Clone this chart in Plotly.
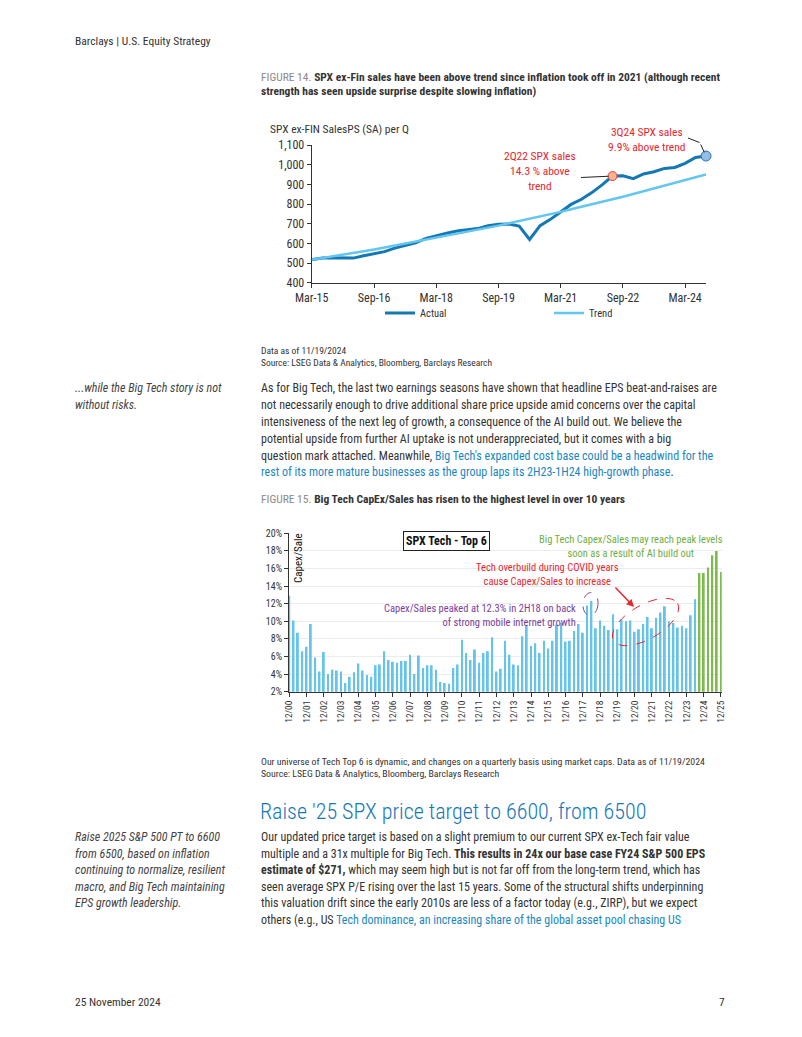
import plotly.graph_objects as go
import math

W, H = 802, 1037
def X(px): return px / W
def Y(py): return 1 - py / H

FONT = "Roboto Condensed, Roboto, sans-serif"
TXT = "#333333"
LINK = "#1a86c0"
RED = "#e8262e"
PURPLE = "#7a3ea0"
GREEN = "#6fae45"

# ---------------- Figure 14 data ----------------
sales_quarters = [f"{y}-{m:02d}-01" for y in range(2015, 2025) for m in (3, 6, 9, 12)][:39]
sales_actual = [517, 525, 527, 525, 525, 537, 546, 558, 576, 590,
                603, 625, 639, 651, 663, 668, 675, 690, 697, 698,
                688, 620, 690, 722, 761, 798, 824, 858, 897, 942,
                944, 929, 953, 964, 981, 986, 1007, 1037, 1044]
sales_trend = [517, 525, 534, 543, 551, 560, 569, 579, 588, 597,
               607, 617, 627, 637, 647, 658, 669, 679, 690, 702,
               713, 724, 736, 748, 760, 773, 785, 798, 811, 824,
               837, 851, 864, 878, 893, 907, 922, 937, 950]
sales_ticks = sales_quarters[0::6]
sales_yticks = [400, 500, 600, 700, 800, 900, 1000, 1100]

# ---------------- Figure 15 data ----------------
all_q = [f"{y}-{m:02d}-01" for y in range(2000, 2026) for m in (3, 6, 9, 12)]
capex_quarters = all_q[3:]  # 12/00 .. 12/25, 101 quarters
capex_actual = [12.9, 10.1, 8.7, 6.6, 7.1, 9.7, 5.9, 4.3, 6.5, 4.0,
                4.5, 4.4, 4.3, 3.0, 3.7, 4.2, 5.2, 4.4, 3.9, 3.7,
                5.0, 5.1, 6.6, 5.6, 5.4, 5.3, 5.5, 5.5, 6.2, 4.0,
                6.1, 4.7, 5.0, 5.0, 4.5, 3.1, 3.0, 2.9, 4.7, 5.1,
                7.9, 6.4, 5.6, 6.8, 5.3, 6.4, 6.6, 8.2, 4.3, 4.6,
                7.8, 6.2, 5.1, 5.0, 8.3, 9.5, 7.2, 7.5, 6.4, 7.8,
                6.9, 7.8, 9.6, 9.8, 7.7, 7.8, 8.9, 9.7, 8.7, 11.8,
                12.3, 9.2, 10.1, 9.5, 9.0, 10.8, 9.1, 10.2, 10.0, 10.1,
                8.8, 9.1, 9.7, 10.5, 9.2, 10.4, 11.0, 11.7, 10.0, 9.8,
                9.3, 9.5, 9.2, 10.7, 12.5]
capex_projected = [15.5, 15.5, 16.1, 17.5, 18.0, 15.6]
capex_ticks = capex_quarters[0::4]
capex_yticks = [2, 4, 6, 8, 10, 12, 14, 16, 18, 20]
capex_yticktext = [f"{v}%" for v in capex_yticks]

n_act = len(capex_actual)

fig = go.Figure()

# Figure 14 traces
fig.add_trace(go.Scatter(x=sales_quarters, y=sales_actual, mode="lines", name="Actual",
                         line=dict(color="#1478b4", width=3), xaxis="x", yaxis="y"))
fig.add_trace(go.Scatter(x=sales_quarters, y=sales_trend, mode="lines", name="Trend",
                         line=dict(color="#62c6f0", width=2.5), xaxis="x", yaxis="y"))
fig.add_trace(go.Scatter(x=[sales_quarters[29]], y=[sales_actual[29]], mode="markers", showlegend=False,
                         marker=dict(size=9, color="#f7b090", line=dict(color="#e04040", width=1)),
                         cliponaxis=False, xaxis="x", yaxis="y"))
fig.add_trace(go.Scatter(x=[sales_quarters[-1]], y=[sales_actual[-1]], mode="markers", showlegend=False,
                         marker=dict(size=10, color="#93bde6", line=dict(color="#2f6fa8", width=1)),
                         cliponaxis=False, xaxis="x", yaxis="y"))

# Figure 15 traces
BW = 40 * 86400000
fig.add_trace(go.Bar(x=capex_quarters[:n_act], y=capex_actual, width=BW, showlegend=False,
                     marker=dict(color="#66c3ea", line=dict(width=0)),
                     xaxis="x2", yaxis="y2"))
fig.add_trace(go.Bar(x=capex_quarters[n_act:], y=capex_projected, width=BW, showlegend=False,
                     marker=dict(color="#7cbb4e", line=dict(width=0)),
                     xaxis="x2", yaxis="y2"))

axis_font = dict(family=FONT, size=12, color=TXT)
small_font = dict(family=FONT, size=10, color=TXT)

fig.update_layout(
    template="none",
    width=W, height=H, margin=dict(l=0, r=0, t=0, b=0, autoexpand=False),
    paper_bgcolor="white", plot_bgcolor="white",
    font=dict(family=FONT, color=TXT),
    barmode="overlay", showlegend=True,
    xaxis=dict(domain=[X(311.7), X(706)], anchor="y", type="date",
               range=[sales_quarters[0], sales_quarters[-1]],
               tickvals=sales_ticks, tickformat="%b-%y", automargin=False,
               showgrid=False, zeroline=False, showline=True, linecolor="#333", linewidth=1,
               ticks="outside", ticklen=4, tickcolor="#333", tickfont=axis_font),
    yaxis=dict(domain=[Y(282.7), Y(145)], anchor="x", range=[400, 1100], tickvals=sales_yticks,
               tickformat=",", showgrid=False, zeroline=False, showline=True, linecolor="#333",
               automargin=False, linewidth=1, ticks="outside", ticklen=4, tickcolor="#333",
               tickfont=axis_font),
    xaxis2=dict(domain=[X(289.0), X(721.7)], anchor="y2", type="date",
                range=["2000-11-25", "2025-12-16"], automargin=False,
                tickvals=capex_ticks, tickformat="%m/%y", tickangle=-90,
                showgrid=False, zeroline=False, showline=True, linecolor="#333", linewidth=1,
                ticks="outside", ticklen=4, tickcolor="#333",
                tickfont=dict(family=FONT, size=9.5, color=TXT)),
    yaxis2=dict(domain=[Y(691.7), Y(533.3)], anchor="x2", range=[2, 20], tickmode="array",
                tickvals=capex_yticks, ticktext=capex_yticktext,
                showgrid=True, gridcolor="#ececec", gridwidth=1, zeroline=False,
                automargin=False, showline=True, linecolor="#333", linewidth=1, ticks="outside",
                ticklen=4, tickcolor="#333", tickfont=small_font),
    legend=dict(orientation="h", x=X(380), y=Y(313), xanchor="left", yanchor="middle",
                entrywidth=124, entrywidthmode="pixels", font=dict(family=FONT, size=10.5, color=TXT),
                bgcolor="rgba(0,0,0,0)", borderwidth=0),
)

ann = []
def text(px, py, s, size=12, color=TXT, xanchor="left", yanchor="middle", align=None, weight=None):
    if align is None:
        align = xanchor if xanchor != "center" else "center"
    f = dict(family=FONT, size=size, color=color)
    if weight is not None:
        f["weight"] = weight
    ann.append(dict(x=X(px), y=Y(py), xref="paper", yref="paper", text=s, showarrow=False,
                    xanchor=xanchor, yanchor=yanchor, align=align, font=f))

# Header / footer
text(73, 41, "Barclays | U.S. Equity Strategy", size=11.5)
text(73, 1002, "25 November 2024", size=11.5)
text(727, 1002, "7", size=11.5, xanchor="right")

# Figure 14 caption
text(259, 77, "<span style='color:#8a8a8a'>FIGURE 14.</span> <b>SPX ex-Fin sales have been above trend since inflation took off in 2021 (although recent</b>", size=11.5)
text(259, 91, "<b>strength has seen upside surprise despite slowing inflation)</b>", size=11.5)
text(268, 129, "SPX ex-FIN SalesPS (SA) per Q", size=11.5)
text(540, 171, "2Q22 SPX sales<br>14.3 % above<br>trend", size=11.5, color=RED, xanchor="center")
text(647, 139, "3Q24 SPX sales<br>9.9% above trend", size=11.5, color=RED, xanchor="center")
text(259, 351, "Data as of 11/19/2024", size=9.5)
text(259, 363, "Source: LSEG Data & Analytics, Bloomberg, Barclays Research", size=9.5)

# leader lines chart 1
ann.append(dict(x=sales_quarters[29], y=sales_actual[29], xref="x", yref="y", text="", showarrow=True,
                arrowhead=0, arrowwidth=1, arrowcolor="#222", ax=-33, ay=1.5, standoff=4))
ann.append(dict(x=sales_quarters[-1], y=sales_actual[-1], xref="x", yref="y", text="", showarrow=True,
                arrowhead=0, arrowwidth=1, arrowcolor="#222", ax=-6, ay=-13, standoff=4))

# Body paragraph 1
text(73, 388, "<i>...while the Big Tech story is not</i>", size=12, color="#444")
text(73, 405, "<i>without risks.</i>", size=12, color="#444")
body1 = [
    "As for Big Tech, the last two earnings seasons have shown that headline EPS beat-and-raises are",
    "not necessarily enough to drive additional share price upside amid concerns over the capital",
    "intensiveness of the next leg of growth, a consequence of the AI build out. We believe the",
    "potential upside from further AI uptake is not underappreciated, but it comes with a big",
    f"question mark attached. Meanwhile, <span style='color:{LINK}'>Big Tech's expanded cost base could be a headwind for the</span>",
    f"<span style='color:{LINK}'>rest of its more mature businesses as the group laps its 2H23-1H24 high-growth phase</span>.",
]
for i, s in enumerate(body1):
    text(259, 388 + i * 16.9, s, size=12)

text(259, 499, "<span style='color:#8a8a8a'>FIGURE 15.</span> <b>Big Tech CapEx/Sales has risen to the highest level in over 10 years</b>", size=11.5)

# Figure 15 annotations
ann.append(dict(x=X(298), y=Y(558), xref="paper", yref="paper", text="Capex/Sale", showarrow=False,
                textangle=-90, font=dict(family=FONT, size=11, color="#111"), xanchor="center", yanchor="middle"))
ann.append(dict(x=X(446), y=Y(541), xref="paper", yref="paper", text="<b>SPX Tech - Top 6</b>", showarrow=False,
                font=dict(family=FONT, size=12, color="#111"), xanchor="center", yanchor="middle",
                bordercolor="#222", borderwidth=1, borderpad=2, bgcolor="white"))
text(631, 546, "Big Tech Capex/Sales may reach peak levels<br>soon as a result of AI build out", size=10.5,
     color=GREEN, xanchor="center")
text(547, 574, "Tech overbuild during COVID years<br>cause Capex/Sales to increase", size=10.5,
     color=RED, xanchor="center")
text(578, 615, "Capex/Sales peaked at 12.3% in 2H18 on back<br>of strong mobile internet growth", size=10.5,
     color=PURPLE, xanchor="right")
ann.append(dict(x=X(634), y=Y(607), xref="paper", yref="paper", ax=-20, ay=-21,
                text="", showarrow=True, arrowhead=2, arrowsize=1, arrowwidth=1.5, arrowcolor=RED))

text(259, 761, "Our universe of Tech Top 6 is dynamic, and changes on a quarterly basis using market caps. Data as of 11/19/2024", size=9.8)
text(259, 773, "Source: LSEG Data & Analytics, Bloomberg, Barclays Research", size=9.8)

# Section heading + body 2
text(258, 811, "Raise '25 SPX price target to 6600, from 6500", size=22, color="#1877b7", weight=300)
left2 = ["Raise 2025 S&P 500 PT to 6600", "from 6500, based on inflation", "continuing to normalize, resilient",
         "macro, and Big Tech maintaining", "EPS growth leadership."]
for i, s in enumerate(left2):
    text(73, 837 + i * 16.6, f"<i>{s}</i>", size=12, color="#444")
body2 = [
    "Our updated price target is based on a slight premium to our current SPX ex-Tech fair value",
    "multiple and a 31x multiple for Big Tech. <b>This results in 24x our base case FY24 S&P 500 EPS</b>",
    "<b>estimate of $271,</b> which may seem high but is not far off from the long-term trend, which has",
    "seen average SPX P/E rising over the last 15 years. Some of the structural shifts underpinning",
    "this valuation drift since the early 2010s are less of a factor today (e.g., ZIRP), but we expect",
    f"others (e.g., US <span style='color:{LINK}'>Tech dominance, an increasing share of the global asset pool chasing US</span>",
]
for i, s in enumerate(body2):
    text(259, 837 + i * 16.6, s, size=12)

fig.update_layout(annotations=ann)

def ellipse_path(cx, cy, rx, ry, ang_deg, n=60):
    a = math.radians(ang_deg)
    pts = []
    for k in range(n + 1):
        t = 2 * math.pi * k / n
        ex, ey = rx * math.cos(t), ry * math.sin(t)
        px = cx + ex * math.cos(a) - ey * math.sin(a)
        py = cy + ex * math.sin(a) + ey * math.cos(a)
        pts.append((X(px), Y(py)))
    return "M " + " L ".join(f"{p[0]:.5f},{p[1]:.5f}" for p in pts) + " Z"

fig.add_shape(type="path", xref="paper", yref="paper", path=ellipse_path(645.5, 622, 37, 17, -30),
              line=dict(color=RED, width=1, dash="dash"))
fig.add_shape(type="path", xref="paper", yref="paper", path=ellipse_path(590.5, 604, 7.5, 11.5, 5),
              line=dict(color=PURPLE, width=1, dash="dash"))
fig.add_shape(type="line", xref="paper", yref="paper", x0=X(688), y0=Y(138), x1=X(699.5), y1=Y(142.5),
              line=dict(color="#222", width=1))

fig.write_html("out.html")
